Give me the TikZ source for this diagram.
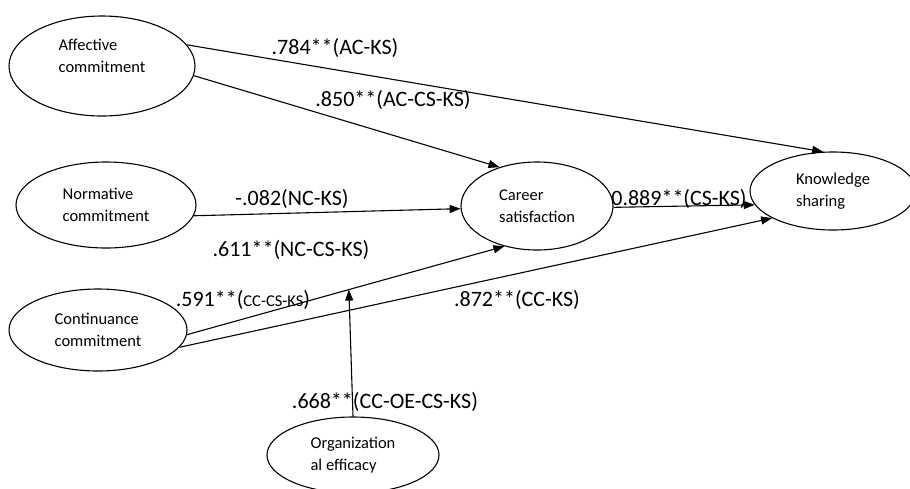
\documentclass[tikz,border=0pt]{standalone}
\usepackage{fontspec}
\setmainfont{Carlito}
\usetikzlibrary{arrows.meta,shapes.geometric}
\tikzstyle{lv}=[ellipse,draw=black,line width=1.1pt,inner sep=0pt,align=left,
  font=\fontsize{16.5}{22}\selectfont]
\tikzstyle{coef}=[inner sep=0pt,font=\fontsize{22}{22}\selectfont]
\tikzstyle{eff}=[draw=black,line width=1.1pt,-{Triangle[length=11pt,width=8pt]}]

\begin{document}
\begin{tikzpicture}[x=1pt,y=-1pt]
        \useasboundingbox (0,0) rectangle (910,488);
        \node [style=lv,minimum width=186,minimum height=100,
          label={[style=lv,draw=none,yshift=10pt]center:{Affective\\commitment}}] (ac) at (102,66) {};
        \node [style=lv,minimum width=180,minimum height=86] (nc) at (106,205) {Normative\\commitment};
        \node [style=lv,minimum width=178,minimum height=82] (cc) at (98,330) {Continuance\\commitment};
        \node [style=lv,minimum width=152,minimum height=88] (cs) at (537,206) {Career\\satisfaction};
        \node [style=lv,minimum width=166,minimum height=78] (ks) at (833,191) {Knowledge\\sharing};
        \node [style=lv,minimum width=172,minimum height=76] (oe) at (353,455) {Organization\\al efficacy};
        \draw [style=eff] (ac.14) to (ks.104);
        \draw [style=eff] (ac.-6) to (cs.134);
        \draw [style=eff] (nc.-7) to (cs.182);
        \draw [style=eff] (cs.-1) to (ks.190);
        \draw [style=eff] (cc.-3) to coordinate [pos=0.51] (m) (cs.231);
        \draw [style=eff] (cc.-12) to (ks.204);
        \draw [style=eff] (oe.north) to (m);
        \node [style=coef] (acks) at (335,48) {.784**(AC-KS)};
        \node [style=coef] (accsks) at (393,100) {.850**(AC-CS-KS)};
        \node [style=coef] (ncks) at (292,199) {-.082(NC-KS)};
        \node [style=coef] (nccsks) at (291,250) {.611**(NC-CS-KS)};
        \node [style=coef] (cccsks) at (243,300) {.591**({\fontsize{16.5}{16.5}\selectfont CC-CS-KS})};
        \node [style=coef] (csks) at (679,199) {0.889**(CS-KS)};
        \node [style=coef] (ccks) at (517,300) {.872**(CC-KS)};
        \node [style=coef] (ccoecsks) at (385,402) {.668**(CC-OE-CS-KS)};
    \end{tikzpicture}
\end{document}
